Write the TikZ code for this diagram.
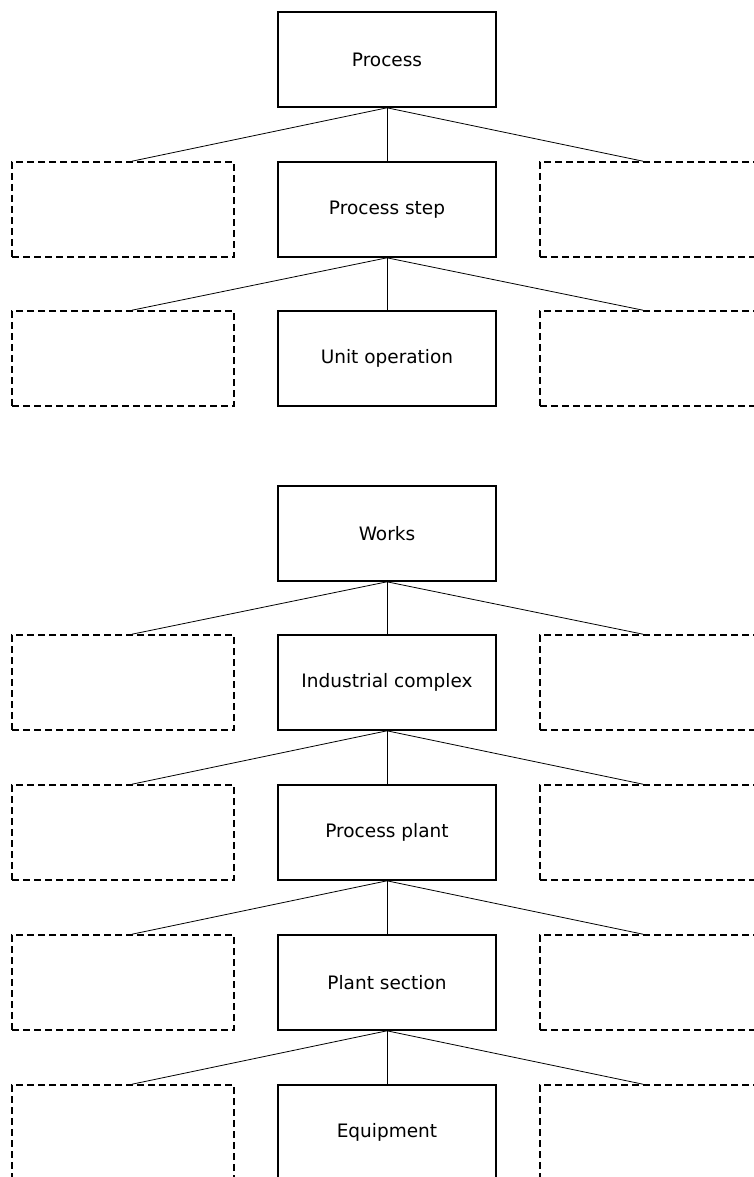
\documentclass[tikz,border=0pt]{standalone}
\usepackage{fontspec}
\setmainfont{DejaVu Sans}
\usetikzlibrary{calc}
\tikzset{
  mainbox/.style={draw, line width=1.6pt, minimum width=218pt, minimum height=95pt, inner sep=0pt, font=\fontsize{18.5}{20}\selectfont},
  optbox/.style={draw, line width=1.6pt, dash pattern=on 7pt off 4pt, minimum width=222pt, minimum height=95pt, inner sep=0pt},
  link/.style={line width=0.8pt},
}
\begin{document}
\begin{tikzpicture}[x=1pt,y=-1pt]
\useasboundingbox (0,0) rectangle (754,1177);
\clip (0,0) rectangle (754,1177);
% group 1
\node[mainbox] (p1) at (387,59.5) {Process};
\node[mainbox] (p2) at (387,209.5) {Process step};
\node[mainbox] (p3) at (387,358.5) {Unit operation};
\node[optbox] (p2l) at (123,209.5) {};
\node[optbox] (p2r) at (651,209.5) {};
\node[optbox] (p3l) at (123,358.5) {};
\node[optbox] (p3r) at (651,358.5) {};
% group 2
\node[mainbox] (w1) at (387,533.5) {Works};
\node[mainbox] (w2) at (387,682.5) {Industrial complex};
\node[mainbox] (w3) at (387,832.5) {Process plant};
\node[mainbox] (w4) at (387,982.5) {Plant section};
\node[mainbox] (w5) at (387,1132.5) {Equipment};
\foreach \n in {w2,w3,w4,w5}{
  \path (\n) ++(-264,0) node[optbox] (\n l) {};
  \path (\n) ++(264,0) node[optbox] (\n r) {};
}
% connectors
\foreach \a/\b in {p1/p2,p2/p3,w1/w2,w2/w3,w3/w4,w4/w5}{
  \draw[link] (\a.south) -- (\b.north);
  \draw[link] (\a.south) -- ([xshift=9pt]\b l.north);
  \draw[link] (\a.south) -- ([xshift=-8pt]\b r.north);
}
\end{tikzpicture}
\end{document}
